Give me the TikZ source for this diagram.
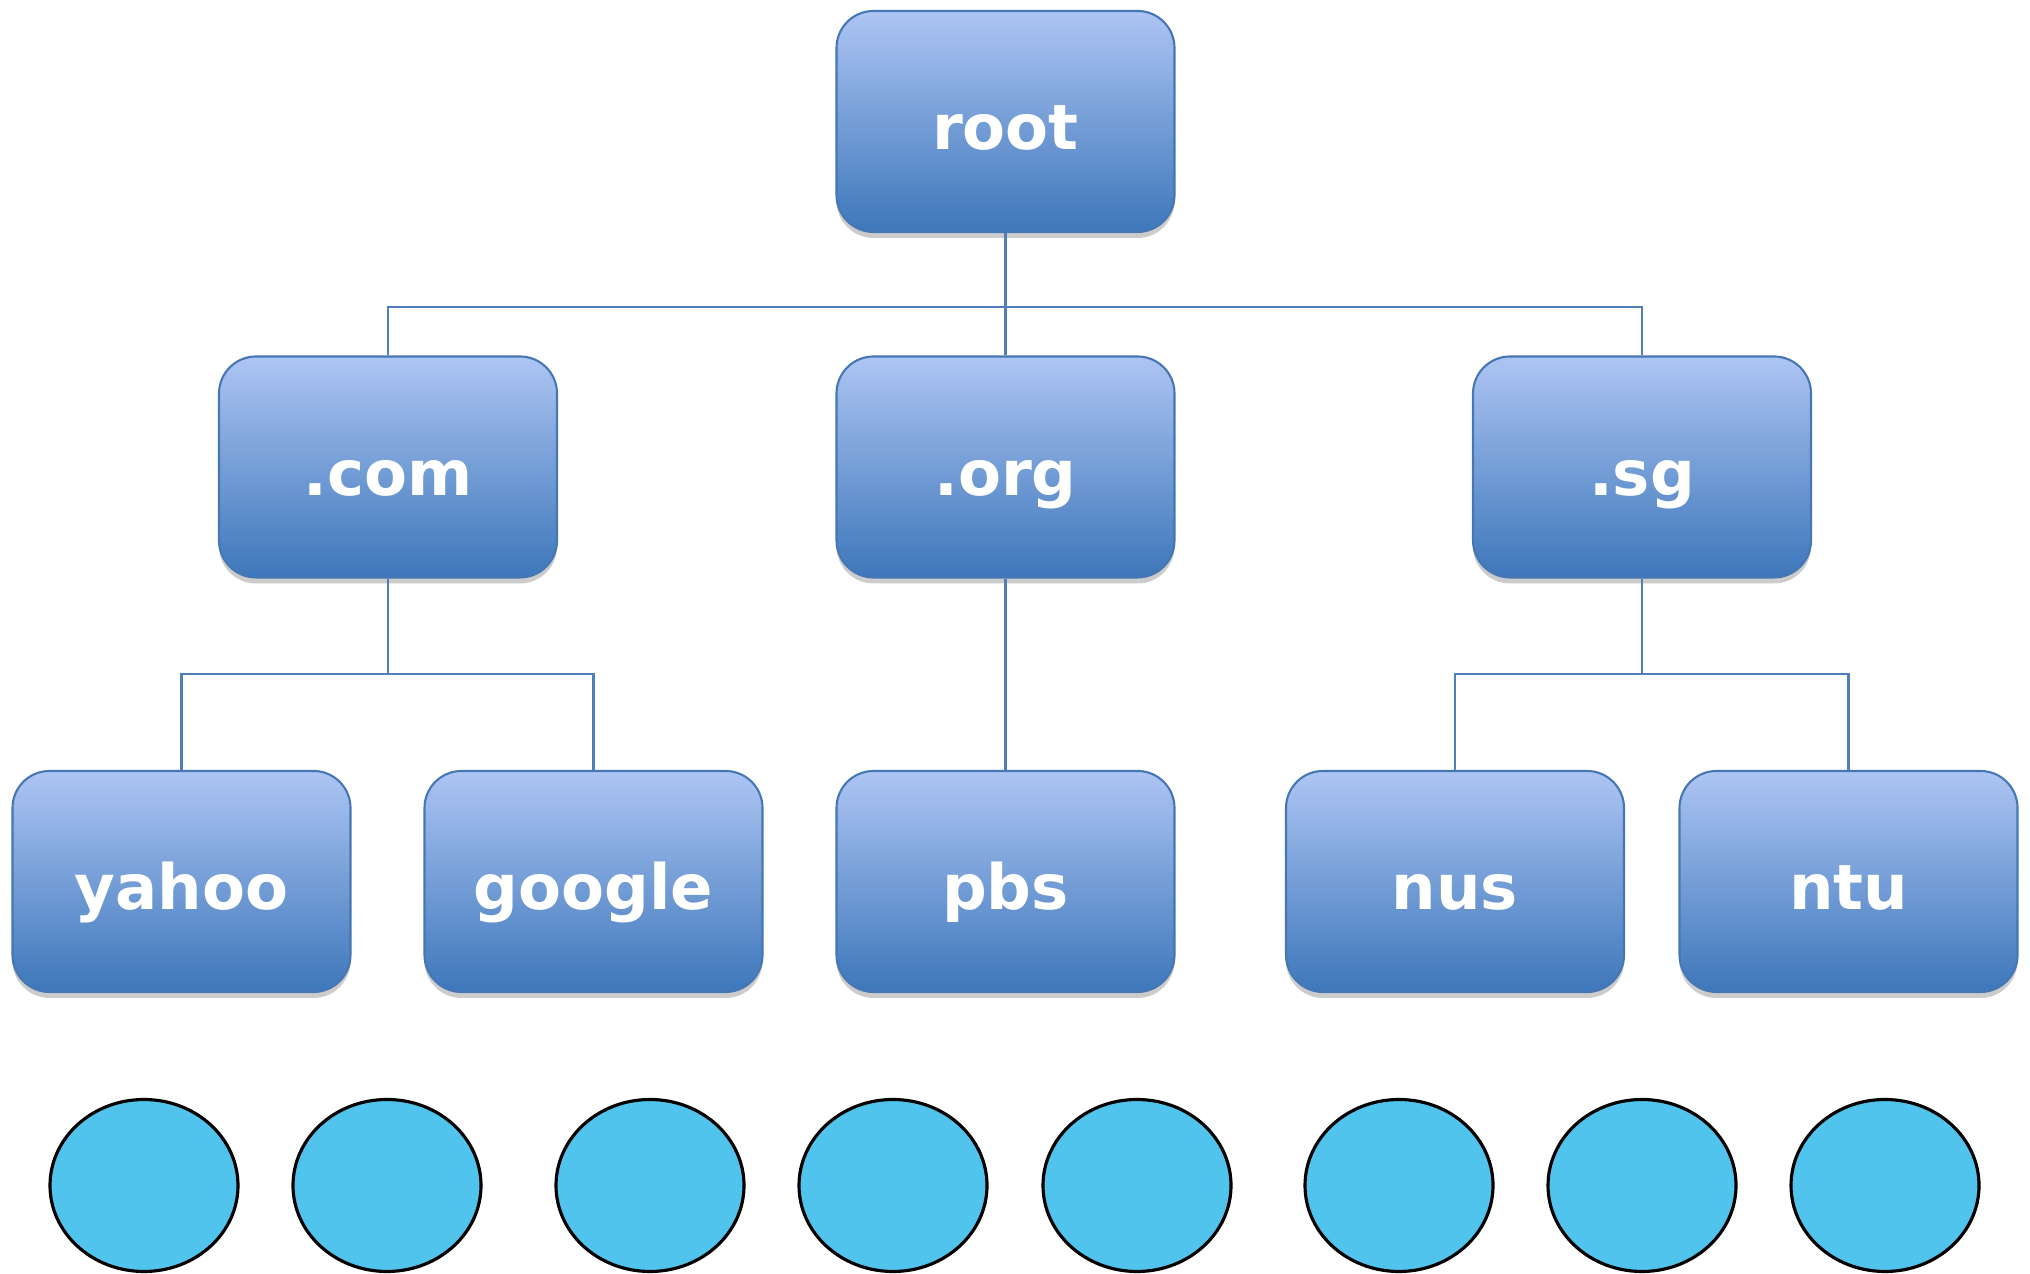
\documentclass[tikz,border=0pt]{standalone}
\usepackage{fontspec}
\setmainfont{DejaVu Sans}
\usepackage{xcolor}
\usetikzlibrary{shadows,shapes.geometric}
\definecolor{boxtop}{HTML}{ADC5F3}
\definecolor{boxbot}{HTML}{3D77BA}
\definecolor{boxline}{HTML}{4677B4}
\definecolor{linkc}{HTML}{4F7FBA}
\definecolor{hostc}{HTML}{51C4EE}
\tikzset{
  dom/.style={rectangle, rounded corners=0.37cm, minimum width=3.38cm, minimum height=2.21cm,
    top color=boxtop, bottom color=boxbot, draw=boxline, line width=0.6pt,
    drop shadow={shadow xshift=0pt, shadow yshift=-0.06cm, opacity=0.4},
    text=white, font=\fontsize{17.8}{21}\selectfont\bfseries, text height=0.57cm, text depth=0cm},
  link/.style={draw=linkc, line width=0.6pt},
  host/.style={ellipse, minimum width=1.88cm, minimum height=1.72cm, inner sep=0pt,
    fill=hostc, draw=black, line width=0.9pt}
}

\begin{document}
\begin{tikzpicture}
  \useasboundingbox (0,0) rectangle (20.30,12.74);
  % domain boxes
  \node[dom] (root) at (10.055,11.525) {root};
  \node[dom] (com) at (3.88,8.07) {.com};
  \node[dom] (org) at (10.055,8.07) {.org};
  \node[dom] (sg) at (16.42,8.07) {.sg};
  \node[dom] (yahoo) at (1.815,3.925) {yahoo};
  \node[dom] (google) at (5.935,3.925) {google};
  \node[dom] (pbs) at (10.055,3.925) {pbs};
  \node[dom] (nus) at (14.55,3.925) {nus};
  \node[dom] (ntu) at (18.485,3.925) {ntu};
  % bus levels
  \coordinate (bus1) at (10.055,9.67);
  \coordinate (bus2) at (3.88,6.00);
  \coordinate (bus3) at (16.42,6.00);
  \draw[link] (root) -- (org);
  \draw[link] (com.north) |- (bus1) -| (sg.north);
  \draw[link] (com) -- (bus2);
  \draw[link] (yahoo.north) |- (bus2) -| (google.north);
  \draw[link] (org) -- (pbs);
  \draw[link] (sg) -- (bus3);
  \draw[link] (nus.north) |- (bus3) -| (ntu.north);
  % hosts
  \foreach \x [count=\i] in {1.44,3.87,6.50,8.93,11.37,13.99,16.42,18.85}
    \node[host] (h\i) at (\x,0.885) {};
\end{tikzpicture}
\end{document}
